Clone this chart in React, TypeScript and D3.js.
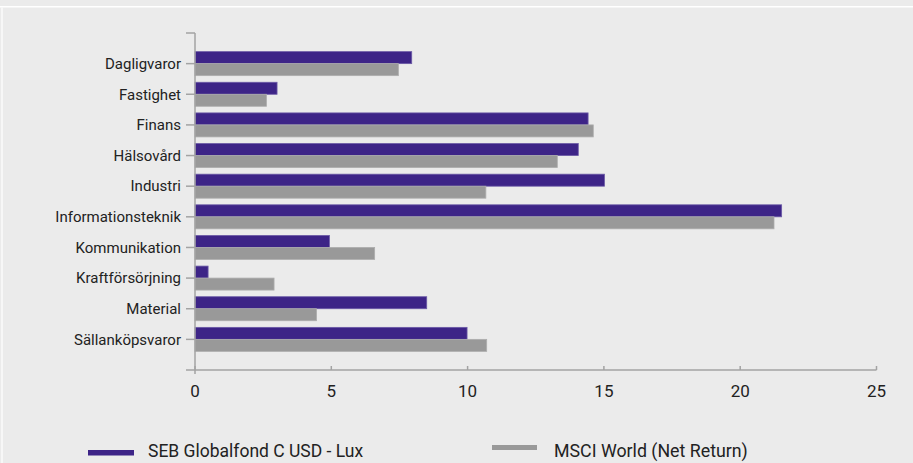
import React from "react";
import * as d3 from "d3";

const categories = [
  "Dagligvaror",
  "Fastighet",
  "Finans",
  "Hälsovård",
  "Industri",
  "Informationsteknik",
  "Kommunikation",
  "Kraftförsörjning",
  "Material",
  "Sällanköpsvaror",
];
const fundValues = [7.95, 3.01, 14.42, 14.06, 15.02, 21.52, 4.93, 0.48, 8.5, 9.98];
const indexValues = [7.46, 2.62, 14.61, 13.29, 10.67, 21.24, 6.59, 2.9, 4.46, 10.7];
const xTicks = [0, 5, 10, 15, 20, 25];
const seriesNames = ["SEB Globalfond C USD - Lux", "MSCI World (Net Return)"];

const W = 913;
const H = 463;
const FONT = "Roboto, 'Noto Sans', sans-serif";

export default function App() {
  const x = d3.scaleLinear().domain([0, 25]).range([195, 876.5]);
  const y = d3.scalePoint<string>().domain(categories).range([33, 370]).padding(1);
  const barH = 12;
  const axisColor = "#a3a3a3";
  const purple = "#3d2487";
  const purpleStroke = "#6b5aa6";
  const gray = "#999999";
  const grayStroke = "#adadad";

  return (
    <svg
      width={W}
      height={H}
      style={{ position: "absolute", left: 0, top: 0, display: "block" }}
      fontFamily={FONT}
    >
      <rect x={0} y={0} width={W} height={H} fill="#ebebeb" />
      <rect x={0} y={6} width={W} height={1.5} fill="#ffffff" />
      <rect x={1} y={7} width={2} height={H - 7} fill="#f7f7f7" />

      {categories.map((c, i) => {
        const cy = y(c)!;
        return (
          <g key={c}>
            <rect
              x={x(0)}
              y={cy - barH}
              width={x(fundValues[i]) - x(0)}
              height={barH}
              fill={purple}
              stroke={purpleStroke}
              strokeWidth={0.8}
            />
            <rect
              x={x(0)}
              y={cy}
              width={x(indexValues[i]) - x(0)}
              height={barH}
              fill={gray}
              stroke={grayStroke}
              strokeWidth={0.8}
            />
            <line x1={186} x2={195} y1={cy} y2={cy} stroke={axisColor} strokeWidth={1.5} />
            <text
              x={181}
              y={cy}
              dy="0.35em"
              textAnchor="end"
              fontSize={15}
              fill="#222"
            >
              {c}
            </text>
          </g>
        );
      })}

      {/* y axis */}
      <line x1={195} x2={195} y1={33} y2={374} stroke={axisColor} strokeWidth={1.5} />
      <line x1={186} x2={195} y1={33} y2={33} stroke={axisColor} strokeWidth={1.5} />
      {/* x axis */}
      <line x1={186} x2={x(25)} y1={370} y2={370} stroke={axisColor} strokeWidth={1.5} />
      {xTicks.map((t) => (
        <g key={t}>
          <line x1={x(t)} x2={x(t)} y1={366} y2={370} stroke={axisColor} strokeWidth={1.5} />
          <text x={x(t)} y={397} textAnchor="middle" fontSize={17} fill="#222">
            {t}
          </text>
        </g>
      ))}

      {/* legend */}
      <rect x={88} y={450} width={46} height={5.5} fill={purple} />
      <text x={148} y={457} fontSize={17.5} fill="#222">
        {seriesNames[0]}
      </text>
      <rect x={492} y={445} width={45} height={5} fill={gray} />
      <text x={554} y={457} fontSize={17.8} fill="#222">
        {seriesNames[1]}
      </text>
    </svg>
  );
}
